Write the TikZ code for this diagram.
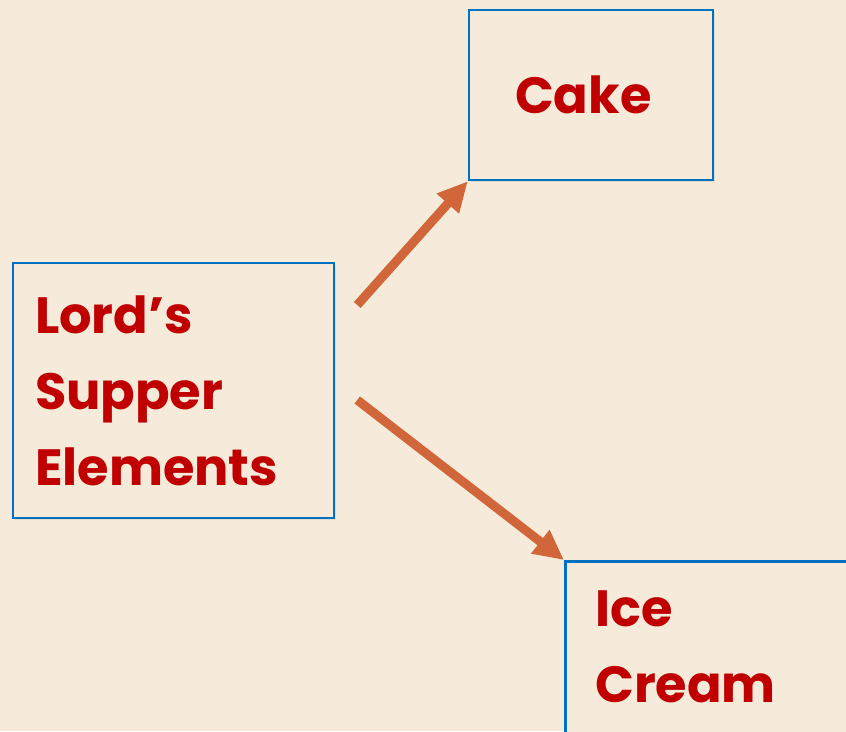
\documentclass[tikz,border=0pt]{standalone}
\usepackage{fontspec}
\setmainfont{Poppins}
\usetikzlibrary{positioning,calc,arrows.meta,shadows}
\definecolor{paper}{HTML}{F6EBDA}
\definecolor{boxblue}{HTML}{0070C0}
\definecolor{wordred}{HTML}{C00000}
\definecolor{arroworange}{HTML}{D0663A}
\tikzstyle{block} = [rectangle, draw=boxblue, line width=2.5pt, fill=paper, text=wordred, font=\fontsize{51}{76}\selectfont\bfseries, drop shadow={opacity=0.15, shadow xshift=2pt, shadow yshift=-2pt}]
\tikzstyle{link} = [draw=arroworange, line width=9pt, -{Triangle[length=30pt,width=28pt]}]

\begin{document}
\begin{tikzpicture}[x=1pt, y=-1pt]
    \fill[paper] (0,0) rectangle (846,731);
    \useasboundingbox (0,0) rectangle (846,731);

    \node[block, minimum width=321pt, minimum height=255pt, text width=277pt, inner xsep=22pt, align=left] (lords) at (173.5,390.5) {Lord’s\\Supper\\Elements};
    \node[block, minimum width=244pt, minimum height=170pt, text width=152pt, inner xsep=46pt, align=left] (cake) at (591,95) {Cake};
    \node[block, anchor=north west, minimum width=320pt, minimum height=172pt, text width=260pt, inner xsep=30pt, align=left] (ice) at (564,560) {Ice\\Cream};

    % arrows
    \coordinate (up) at ($(lords.east)+(22,-85.5)$);
    \coordinate (down) at ($(lords.east)+(22,9.5)$);
    \draw[link] (up) -- (cake.south west);
    \draw[link] (down) -- (ice.north west);
\end{tikzpicture}
\end{document}
